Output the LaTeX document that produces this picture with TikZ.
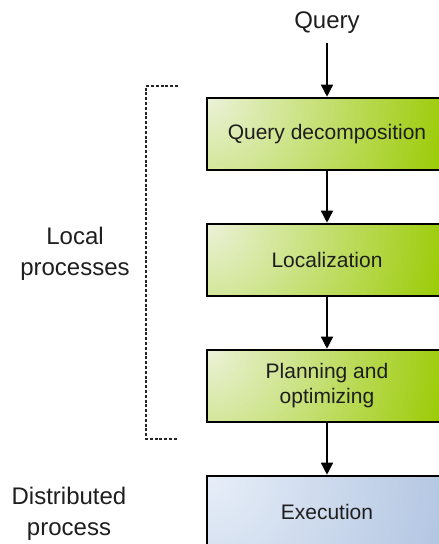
\documentclass[tikz,border=0pt]{standalone}
\usepackage{fontspec}
\setmainfont{Liberation Sans}
\usetikzlibrary{arrows.meta}
\definecolor{greenlight}{HTML}{EBF2D8}
\definecolor{greendark}{HTML}{99CA00}
\definecolor{bluelight}{HTML}{E7EEF8}
\definecolor{bluedark}{HTML}{AFC3E0}
\definecolor{textgray}{HTML}{1E1E1E}
\tikzset{
  stagebox/.style={draw=black, line width=2.6pt, minimum width=240pt,
    minimum height=72pt, inner sep=0pt, align=center, text=textgray,
    font=\fontsize{21}{25}\selectfont},
  greenfill/.style={fill=greendark, path picture={\shade[inner color=greenlight, outer color=greendark]
    (path picture bounding box.north west) circle (250pt);}},
  bluefill/.style={fill=bluedark, path picture={\shade[inner color=bluelight, outer color=bluedark]
    (path picture bounding box.north west) circle (260pt);}},
  flow/.style={line width=1.5pt, -{Triangle[width=12pt,length=12pt]}},
  bracket/.style={line width=2.4pt, dash pattern=on 3pt off 1.8pt, draw=black!85},
  sidelabel/.style={align=center, text=textgray, inner sep=0pt,
    font=\fontsize{24}{31}\selectfont},
}
\begin{document}
\begin{tikzpicture}[x=1pt,y=-1pt]
\useasboundingbox (0,0) rectangle (439,544);
\clip (0,0) rectangle (439,544);

% incoming query
\node[text=textgray, font=\fontsize{24}{29}\selectfont, inner xsep=0pt,
  inner ysep=10pt, anchor=base] (query) at (327,28) {Query};

% processing stages
\node[stagebox, greenfill] (decomp) at (327,134) {Query decomposition};
\node[stagebox, greenfill] (local)  at (327,260) {Localization};
\node[stagebox, greenfill] (plan)   at (327,386) {Planning and\\optimizing};
\node[stagebox, bluefill]  (exec)   at (327,512) {Execution};

\draw[flow] (query.south) -- (decomp.north);
\draw[flow] (decomp.south) -- (local.north);
\draw[flow] (local.south) -- (plan.north);
\draw[flow] (plan.south) -- (exec.north);

% bracket grouping the local stages
\coordinate (brtop) at (178,86);
\coordinate (brbot) at (178,439);
\draw[bracket] (brtop) -- (146,86) -- (146,439) -- (brbot);

% side labels
\node[sidelabel] (loclabel) at (75,254) {Local\\processes};
\node[sidelabel] (distlabel) at (69,514) {Distributed\\process};
\end{tikzpicture}
\end{document}
